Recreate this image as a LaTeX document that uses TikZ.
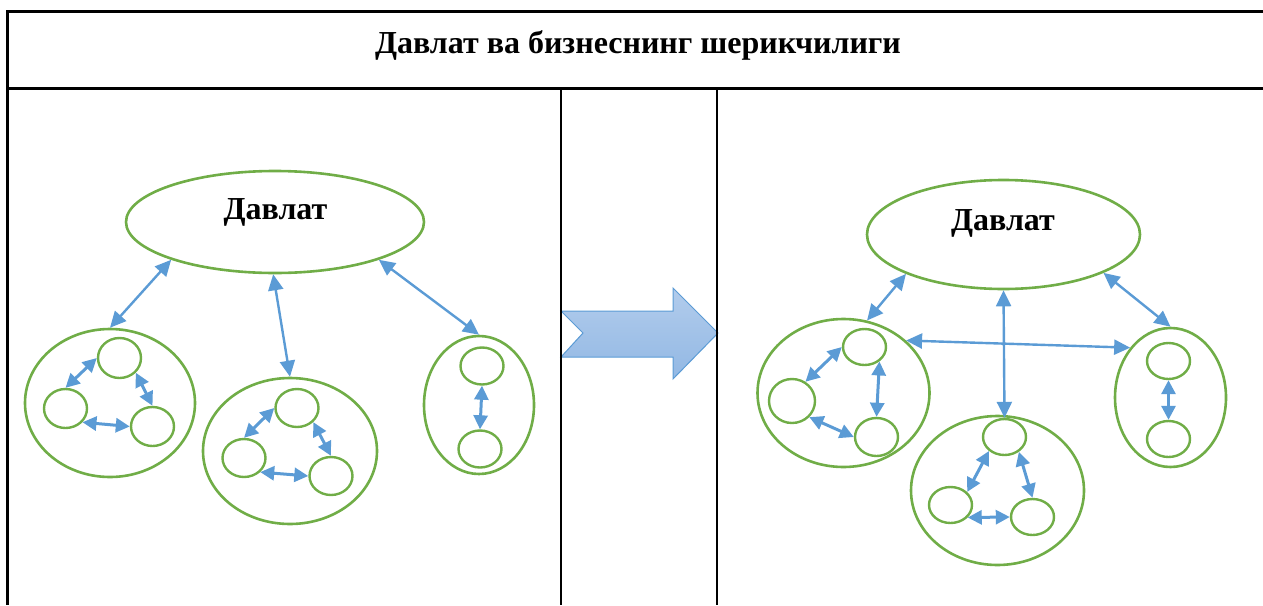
\documentclass[tikz,border=0pt]{standalone}
\usepackage{fontspec}
\setmainfont{Liberation Serif}
\usetikzlibrary{shapes.geometric,arrows.meta,positioning}
\definecolor{grpgreen}{RGB}{112,173,71}
\definecolor{linkblue}{RGB}{91,155,213}
\definecolor{fillhi}{RGB}{178,204,236}
\definecolor{filllo}{RGB}{146,184,228}

\begin{document}
\begin{tikzpicture}[x=1pt,y=-1pt,
    oval/.style 2 args={ellipse,draw=grpgreen,line width=2.6pt,inner sep=0pt,minimum width=#1,minimum height=#2},
    unit/.style 2 args={ellipse,draw=grpgreen,line width=2.4pt,inner sep=0pt,minimum width=#1,minimum height=#2},
    link/.style={color=linkblue,line width=2.4pt,<->,>={Triangle[length=16pt,width=15pt]}},
    tie/.style={color=linkblue,line width=3pt,<->,>={Triangle[length=14pt,width=14pt]}},
    head/.style={anchor=base,font=\fontsize{32}{38}\selectfont\bfseries},
    rule/.style={draw=black,line width=3pt}]
  \useasboundingbox (0,0) rectangle (1263,605);

  % shift arrow between the two panels
  \draw[draw=linkblue,line width=1pt,top color=fillhi,bottom color=filllo]
    (561,311) -- (673,311) -- (673,288) -- (718,333) -- (673,379)
    -- (673,357) -- (561,357) -- (583,333) -- cycle;

  % table
  \draw[rule] (1263,11) -- (7,11) -- (7,605);
  \draw[rule] (7,88) -- (1263,88);
  \draw[rule,line width=2.5pt] (561,88) -- (561,605) (717,88) -- (717,605);
  \node[head] (title) at (638,53) {Давлат ва бизнеснинг шерикчилиги};

  % left panel
  \node[oval={298pt}{102pt}] (davL) at (275,222) {};
  \node[head] (davLtxt) at (275.5,219.5) {Давлат};
  \node[oval={170pt}{148pt}] (g1) at (110,403) {};
  \node[oval={174pt}{146pt}] (g2) at (290,451) {};
  \node[oval={110pt}{138pt}] (g3) at (479,405) {};
  \node[unit={43pt}{40pt}] (t1) at (119.5,358) {};
  \node[unit={43pt}{39pt}] (l1) at (65.5,408.5) {};
  \node[unit={43pt}{39pt}] (r1) at (152.5,426.5) {};
  \node[unit={43pt}{38pt}] (t2) at (297,408) {};
  \node[unit={43pt}{38pt}] (l2) at (244,458) {};
  \node[unit={43pt}{38pt}] (r2) at (331,476) {};
  \node[unit={43pt}{37pt}] (t3) at (482,366) {};
  \node[unit={43pt}{37pt}] (b3) at (480,449) {};
  \draw[link] (davL.200) -- (g1.north);
  \draw[link] (davL.268) -- (g2.north);
  \draw[link] (davL.340) -- (g3.north);
  \draw[tie] (t1.west) -- (l1.north);
  \draw[tie] (t1.318) -- (r1.north);
  \draw[tie] (l1.321) -- (r1.west);
  \draw[tie] (t2.west) -- (l2.north);
  \draw[tie] (t2.319) -- (r2.north);
  \draw[tie] (l2.319) -- (r2.west);
  \draw[tie] (t3.south) -- (b3.north);

  % right panel
  \node[oval={273pt}{109pt}] (davR) at (1003.5,234.5) {};
  \node[head] (davRtxt) at (1003,230) {Давлат};
  \node[oval={172pt}{148pt}] (g4) at (843.5,393) {};
  \node[oval={173pt}{149pt}] (g5) at (997.5,490.5) {};
  \node[oval={111pt}{139pt}] (g6) at (1170.5,397.5) {};
  \node[unit={43pt}{36pt}] (t4) at (864.5,347) {};
  \node[unit={46pt}{44pt}] (l4) at (792,401) {};
  \node[unit={43pt}{38pt}] (r4) at (876.5,437) {};
  \node[unit={43pt}{36pt}] (t5) at (1004.5,437) {};
  \node[unit={43pt}{36pt}] (l5) at (950.5,505) {};
  \node[unit={43pt}{36pt}] (r5) at (1032.5,517) {};
  \node[unit={43pt}{36pt}] (t6) at (1168.5,361) {};
  \node[unit={43pt}{36pt}] (b6) at (1168.5,439) {};
  \draw[link] (davR.202) -- (g4.72);
  \draw[link] (davR.south) -- (t5.north);
  \draw[link] (davR.339) -- (g6.north);
  \draw[link] (g4.40) -- (g6.129);
  \draw[tie] (t4.west) -- (l4.55);
  \draw[tie] (t4.316) -- (r4.north);
  \draw[tie] (l4.317) -- (r4.west);
  \draw[tie] (t5.222) -- (l5.38);
  \draw[tie] (t5.314) -- (r5.north);
  \draw[tie] (l5.324) -- (r5.west);
  \draw[tie] (t6.south) -- (b6.north);
\end{tikzpicture}
\end{document}
